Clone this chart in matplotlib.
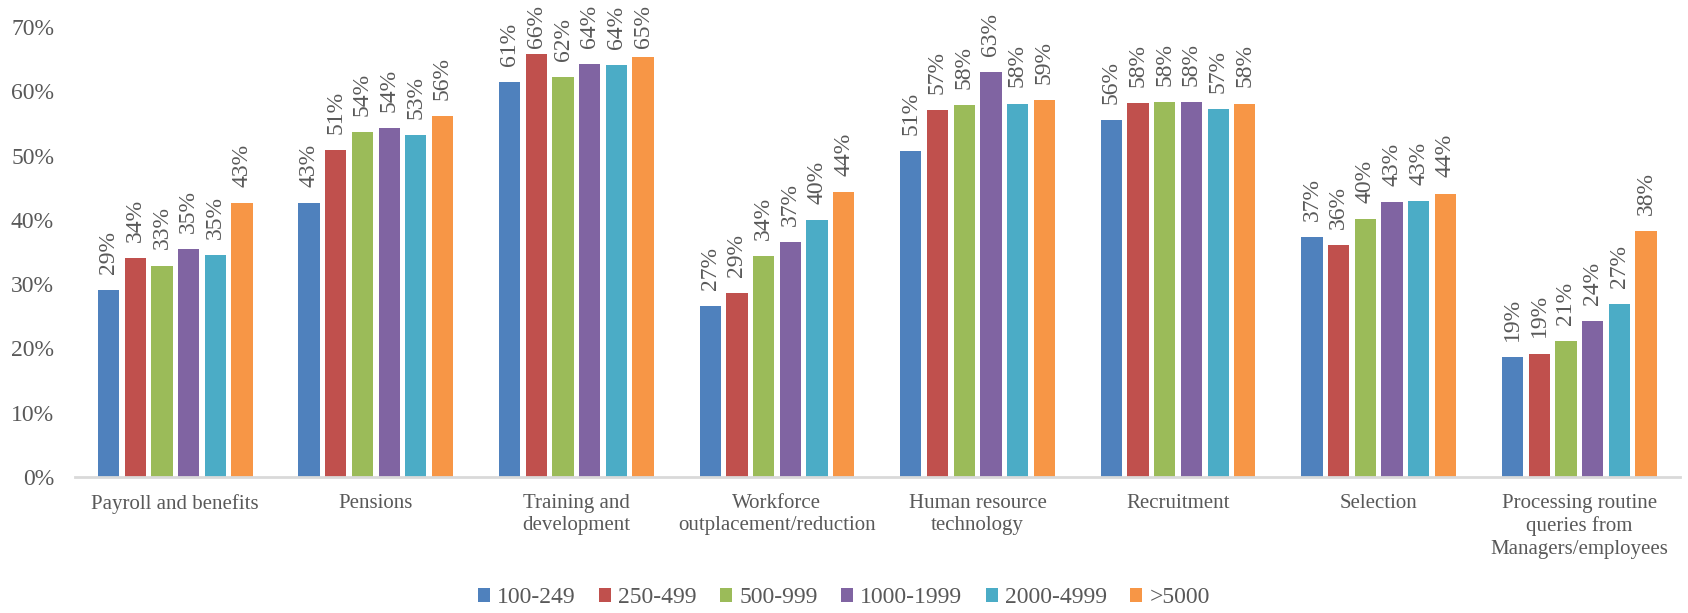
import numpy as np
from matplotlib import pyplot as plt

categories = ["Payroll and benefits", "Pensions", "Training and\ndevelopment",
              "Workforce\noutplacement/reduction", "Human resource\ntechnology",
              "Recruitment", "Selection",
              "Processing routine\nqueries from\nManagers/employees"]
series = ["100-249", "250-499", "500-999", "1000-1999", "2000-4999", ">5000"]

# values in %
s_100_249 = [29.1, 42.6, 61.4, 26.6, 50.7, 55.6, 37.3, 18.7]
s_250_499 = [34.0, 50.8, 65.8, 28.6, 57.1, 58.2, 36.1, 19.2]
s_500_999 = [32.9, 53.6, 62.2, 34.4, 57.9, 58.3, 40.1, 21.2]
s_1000_1999 = [35.4, 54.3, 64.3, 36.6, 63.0, 58.4, 42.8, 24.3]
s_2000_4999 = [34.6, 53.2, 64.1, 40.0, 58.1, 57.3, 42.9, 26.9]
s_5000 = [42.6, 56.1, 65.3, 44.3, 58.6, 58.1, 44.1, 38.3]

data = [s_100_249, s_250_499, s_500_999, s_1000_1999, s_2000_4999, s_5000]
colors = ["#4F81BD", "#C0504D", "#9BBB59", "#8064A2", "#4BACC6", "#F79646"]
text_color = "#595959"

plt.rcParams['font.family'] = ['Liberation Serif', 'DejaVu Serif']

fig = plt.figure(figsize=(16.88, 6.13), dpi=100)
ax = fig.add_axes([0.0444, 0.2219, 0.9506, 0.734])

x = np.arange(len(categories))
pitch = 0.133
width = 0.106
for i, (vals, name, c) in enumerate(zip(data, series, colors)):
    pos = x + (i - 2.5) * pitch
    ax.bar(pos, vals, width, color=c, label=name)
    for px, v in zip(pos, vals):
        # labels sit above the bar but are kept inside the chart near the top
        y_lab = min(v + 2.5, 66.7)
        ax.text(px, y_lab, f"{v:.0f}%", rotation=90, ha="center", va="bottom",
                fontsize=17, color=text_color, clip_on=False)

ax.set_xlim(-0.5, len(categories) - 0.5)
ax.set_ylim(0, 70)
ax.set_yticks(range(0, 71, 10))
ax.set_yticklabels([f"{t}%" for t in range(0, 71, 10)], fontsize=17, color=text_color)
ax.set_xticks(x)
ax.set_xticklabels(categories, fontsize=15, color=text_color, linespacing=1.25)
ax.tick_params(axis="both", length=0)
ax.tick_params(axis="x", pad=12)
ax.tick_params(axis="y", pad=15)

for side in ["top", "right", "left"]:
    ax.spines[side].set_visible(False)
ax.spines["bottom"].set_color("#D9D9D9")
ax.spines["bottom"].set_linewidth(2)

leg = fig.legend(loc="lower center", ncol=6, bbox_to_anchor=(0.5, -0.027),
                 frameon=False, fontsize=17, handlelength=0.5, handleheight=0.5,
                 handletextpad=0.3, columnspacing=1.0)
for t in leg.get_texts():
    t.set_color(text_color)

plt.savefig("out.png", dpi=100)
plt.close()
